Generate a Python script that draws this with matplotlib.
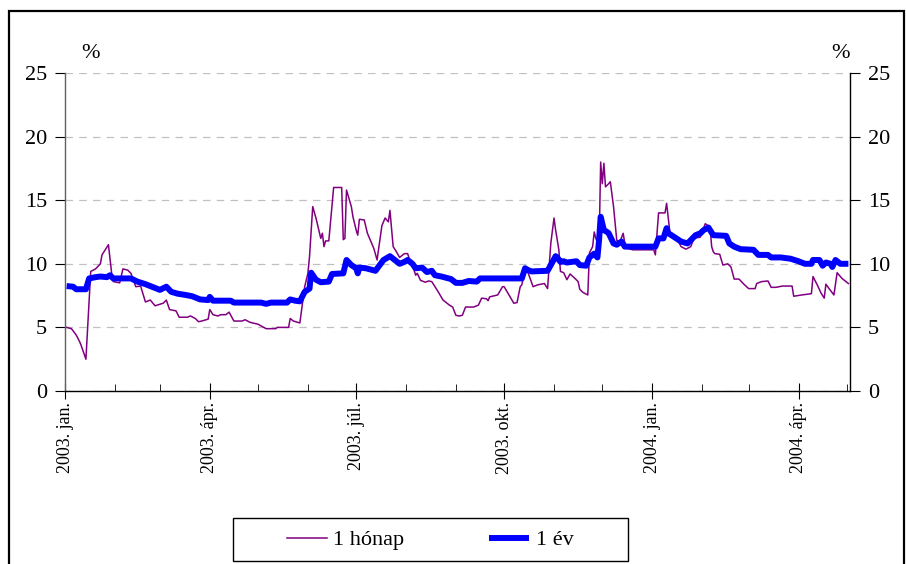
import matplotlib
matplotlib.use("Agg")
import matplotlib.pyplot as plt
import matplotlib.dates as mdates
from matplotlib.patches import Rectangle
import pandas as pd

plt.rcParams['font.family'] = ['Liberation Serif', 'DejaVu Serif']

# 1 hónap (1-month yield), %
month_dates = [
    "2003-01-02", "2003-01-05", "2003-01-08", "2003-01-10", "2003-01-11", "2003-01-14", "2003-01-17",
    "2003-01-20", "2003-01-23", "2003-01-24", "2003-01-25", "2003-01-28", "2003-01-30", "2003-01-31",
    "2003-02-04", "2003-02-06", "2003-02-09", "2003-02-11", "2003-02-14", "2003-02-17", "2003-02-20",
    "2003-02-23", "2003-02-26", "2003-03-03", "2003-03-05", "2003-03-07", "2003-03-11", "2003-03-13",
    "2003-03-18", "2003-03-20", "2003-03-23", "2003-03-25", "2003-03-27", "2003-03-31", "2003-04-01",
    "2003-04-03", "2003-04-06", "2003-04-08", "2003-04-11", "2003-04-13", "2003-04-16", "2003-04-21",
    "2003-04-23", "2003-04-26", "2003-05-01", "2003-05-06", "2003-05-12", "2003-05-13", "2003-05-20",
    "2003-05-21", "2003-05-23", "2003-05-27", "2003-05-30", "2003-06-01", "2003-06-02", "2003-06-04",
    "2003-06-06", "2003-06-09", "2003-06-10", "2003-06-11", "2003-06-12", "2003-06-14", "2003-06-17",
    "2003-06-22", "2003-06-23", "2003-06-24", "2003-06-25", "2003-06-28", "2003-06-29", "2003-07-01",
    "2003-07-02", "2003-07-03", "2003-07-06", "2003-07-08", "2003-07-12", "2003-07-14", "2003-07-17",
    "2003-07-19", "2003-07-21", "2003-07-22", "2003-07-23", "2003-07-24", "2003-07-26", "2003-07-28",
    "2003-07-31", "2003-08-02", "2003-08-04", "2003-08-06", "2003-08-07", "2003-08-08", "2003-08-10",
    "2003-08-13", "2003-08-15", "2003-08-17", "2003-08-19", "2003-08-21", "2003-08-24", "2003-08-28",
    "2003-08-30", "2003-09-01", "2003-09-03", "2003-09-05", "2003-09-07", "2003-09-12", "2003-09-15",
    "2003-09-17", "2003-09-20", "2003-09-21", "2003-09-22", "2003-09-27", "2003-09-30", "2003-10-01",
    "2003-10-04", "2003-10-07", "2003-10-09", "2003-10-11", "2003-10-12", "2003-10-14", "2003-10-16",
    "2003-10-19", "2003-10-22", "2003-10-26", "2003-10-28", "2003-10-30", "2003-11-01", "2003-11-02",
    "2003-11-04", "2003-11-05", "2003-11-07", "2003-11-09", "2003-11-11", "2003-11-14", "2003-11-16",
    "2003-11-17", "2003-11-19", "2003-11-22", "2003-11-23", "2003-11-25", "2003-11-26", "2003-11-27",
    "2003-11-29", "2003-11-30", "2003-12-01", "2003-12-02", "2003-12-03", "2003-12-05", "2003-12-06",
    "2003-12-08", "2003-12-10", "2003-12-12", "2003-12-14", "2003-12-15", "2003-12-17", "2003-12-20",
    "2004-01-02", "2004-01-03", "2004-01-05", "2004-01-09", "2004-01-10", "2004-01-12", "2004-01-13",
    "2004-01-16", "2004-01-19", "2004-01-22", "2004-01-25", "2004-01-27", "2004-01-31", "2004-02-03",
    "2004-02-06", "2004-02-07", "2004-02-08", "2004-02-09", "2004-02-12", "2004-02-14", "2004-02-17",
    "2004-02-19", "2004-02-21", "2004-02-24", "2004-02-27", "2004-03-01", "2004-03-05", "2004-03-06",
    "2004-03-09", "2004-03-13", "2004-03-15", "2004-03-18", "2004-03-22", "2004-03-28", "2004-03-29",
    "2004-04-03", "2004-04-09", "2004-04-10", "2004-04-13", "2004-04-15", "2004-04-17", "2004-04-18",
    "2004-04-20", "2004-04-23", "2004-04-25", "2004-04-28", "2004-05-02",
]
month_vals = [
    5.0, 4.9, 4.4, 3.9, 3.6, 2.5, 9.4,
    9.6, 10.0, 10.7, 10.9, 11.5, 9.25, 8.6,
    8.5, 9.6, 9.5, 9.25, 8.2, 8.25, 7.0,
    7.15, 6.7, 6.9, 7.15, 6.4, 6.3, 5.8,
    5.8, 5.9, 5.7, 5.45, 5.5, 5.65, 6.4,
    6.0, 5.9, 6.0, 6.0, 6.2, 5.5, 5.5,
    5.6, 5.4, 5.25, 4.9, 4.9, 5.0, 5.0,
    5.7, 5.5, 5.35, 8.2, 9.25, 10.55, 14.5,
    13.6, 12.0, 12.4, 11.35, 11.8, 11.8, 16.0,
    16.0, 11.9, 12.0, 15.8, 14.5, 13.7, 12.65,
    12.25, 13.5, 13.45, 12.4, 11.2, 10.3, 13.0,
    13.6, 13.3, 14.2, 12.8, 11.35, 10.95, 10.5,
    10.8, 10.8, 10.0, 9.5, 9.1, 9.25, 8.7,
    8.55, 8.65, 8.6, 8.2, 7.8, 7.15, 6.75,
    6.6, 5.95, 5.9, 5.95, 6.6, 6.6, 6.75,
    7.3, 7.25, 7.1, 7.4, 7.55, 8.2, 8.2,
    7.55, 6.9, 6.95, 8.2, 8.35, 9.6, 9.25,
    8.2, 8.35, 8.45, 8.05, 11.6, 13.6, 12.65,
    11.1, 9.4, 9.3, 8.75, 9.2, 8.85, 8.6,
    8.0, 7.75, 7.55, 10.85, 11.35, 12.5, 12.0,
    11.35, 18.0, 16.3, 17.9, 16.05, 16.3, 16.45,
    14.5, 11.85, 11.75, 12.4, 11.6, 11.2, 11.1,
    11.1, 10.7, 14.0, 14.0, 14.75, 12.5, 12.25,
    12.1, 11.35, 11.15, 11.35, 12.0, 12.1, 13.15,
    12.9, 11.35, 10.95, 10.8, 10.75, 9.9, 10.0,
    9.75, 8.8, 8.8, 8.4, 8.05, 8.05, 8.45,
    8.6, 8.65, 8.15, 8.15, 8.25, 8.25, 7.45,
    7.55, 7.65, 9.0, 8.25, 7.7, 7.3, 8.4,
    8.05, 7.55, 9.3, 8.85, 8.45,
]

# 1 év (1-year yield), %
year_dates = [
    "2003-01-02", "2003-01-06", "2003-01-08", "2003-01-14", "2003-01-16", "2003-01-20", "2003-01-23",
    "2003-01-27", "2003-01-29", "2003-01-31", "2003-02-11", "2003-02-15", "2003-02-20", "2003-02-24",
    "2003-03-01", "2003-03-05", "2003-03-08", "2003-03-12", "2003-03-17", "2003-03-21", "2003-03-26",
    "2003-03-31", "2003-04-01", "2003-04-03", "2003-04-14", "2003-04-16", "2003-05-03", "2003-05-06",
    "2003-05-09", "2003-05-19", "2003-05-21", "2003-05-24", "2003-05-27", "2003-05-30", "2003-06-02",
    "2003-06-03", "2003-06-06", "2003-06-09", "2003-06-14", "2003-06-16", "2003-06-23", "2003-06-25",
    "2003-06-28", "2003-07-01", "2003-07-02", "2003-07-03", "2003-07-07", "2003-07-13", "2003-07-18",
    "2003-07-22", "2003-07-26", "2003-07-28", "2003-07-31", "2003-08-02", "2003-08-05", "2003-08-07",
    "2003-08-11", "2003-08-14", "2003-08-17", "2003-08-19", "2003-08-23", "2003-08-29", "2003-09-01",
    "2003-09-05", "2003-09-09", "2003-09-14", "2003-09-16", "2003-10-12", "2003-10-14", "2003-10-16",
    "2003-10-18", "2003-10-28", "2003-10-30", "2003-11-02", "2003-11-03", "2003-11-05", "2003-11-07",
    "2003-11-09", "2003-11-15", "2003-11-17", "2003-11-21", "2003-11-23", "2003-11-26", "2003-11-28",
    "2003-11-29", "2003-11-30", "2003-12-02", "2003-12-04", "2003-12-05", "2003-12-08", "2003-12-10",
    "2003-12-13", "2003-12-15", "2004-01-03", "2004-01-05", "2004-01-08", "2004-01-10", "2004-01-11",
    "2004-01-13", "2004-01-16", "2004-01-19", "2004-01-23", "2004-01-28", "2004-01-31", "2004-02-02",
    "2004-02-05", "2004-02-08", "2004-02-16", "2004-02-18", "2004-02-21", "2004-02-25", "2004-03-04",
    "2004-03-07", "2004-03-13", "2004-03-15", "2004-03-21", "2004-03-27", "2004-04-01", "2004-04-05",
    "2004-04-09", "2004-04-10", "2004-04-14", "2004-04-16", "2004-04-18", "2004-04-21", "2004-04-22",
    "2004-04-24", "2004-04-27", "2004-05-02",
]
year_vals = [
    8.25, 8.2, 8.0, 8.0, 8.85, 8.95, 9.0,
    8.95, 9.1, 8.85, 8.85, 8.6, 8.4, 8.2,
    7.95, 8.2, 7.8, 7.65, 7.55, 7.45, 7.2,
    7.15, 7.4, 7.1, 7.1, 6.95, 6.95, 6.85,
    6.95, 6.95, 7.2, 7.1, 7.05, 7.8, 8.05,
    9.3, 8.75, 8.55, 8.6, 9.2, 9.25, 10.3,
    9.9, 9.65, 9.25, 9.7, 9.65, 9.45, 10.3,
    10.6, 10.2, 10.0, 10.15, 10.3, 10.0, 9.65,
    9.7, 9.35, 9.45, 9.1, 9.0, 8.8, 8.5,
    8.5, 8.65, 8.6, 8.85, 8.85, 9.65, 9.5,
    9.4, 9.45, 9.9, 10.6, 10.5, 10.15, 10.2,
    10.1, 10.2, 9.9, 9.85, 10.5, 10.8, 10.5,
    11.85, 13.7, 12.65, 12.5, 12.4, 11.6, 11.5,
    11.75, 11.35, 11.35, 12.0, 12.0, 12.8, 12.4,
    12.25, 12.0, 11.75, 11.6, 12.25, 12.4, 12.65,
    12.85, 12.25, 12.2, 11.6, 11.35, 11.15, 11.1,
    10.7, 10.7, 10.5, 10.5, 10.4, 10.2, 10.0,
    10.0, 10.3, 10.3, 9.85, 10.1, 10.0, 9.75,
    10.3, 10.0, 10.0,
]

tick_dates = ["2003-01-01", "2003-04-01", "2003-07-01", "2003-10-01", "2004-01-01", "2004-04-01"]
tick_labels = ["2003. jan.", "2003. ápr.", "2003. júl.", "2003. okt.", "2004. jan.", "2004. ápr."]

W, H = 906, 564
fig = plt.figure(figsize=(W / 100, H / 100), dpi=100)
ax = fig.add_axes([65 / W, 173 / H, 785 / W, 318 / H])

ax.plot(pd.to_datetime(month_dates), month_vals, color='#800080', lw=1.1, label='1 hónap')
ax.plot(pd.to_datetime(year_dates), year_vals, color='#0000ff', lw=4.3, label='1 év',
        solid_joinstyle='round', solid_capstyle='butt')

# y axis, labelled on both sides
ax.set_ylim(0, 25)
ax.set_yticks(range(0, 26, 5))
ax.grid(axis='y', color='#c0c0c0', ls=(0, (6, 5)), lw=0.9)
ax.set_axisbelow(True)
ax.tick_params(axis='y', which='both', left=True, right=True, labelleft=True, labelright=True,
               direction='out', length=7, labelsize=16, pad=6)

# x axis: monthly ticks, labels every quarter
ax.set_xlim(pd.Timestamp("2003-01-01"), pd.Timestamp("2004-05-03"))
ax.set_xticks(pd.to_datetime(tick_dates))
ax.set_xticklabels(tick_labels, rotation=90, va='top', ha='center')
ax.xaxis.set_minor_locator(mdates.MonthLocator())
ax.tick_params(axis='x', which='major', direction='inout', length=12, labelsize=13, pad=2)
ax.tick_params(axis='x', which='minor', direction='in', length=5)

ax.spines['top'].set_visible(False)
ax.spines['left'].set_color('#606060')
for side in ['left', 'right', 'bottom']:
    ax.spines[side].set_linewidth(1.0)
ax.spines['right'].set_color('black')
ax.spines['bottom'].set_color('black')

fig.text(91 / W, 1 - 53 / H, '%', ha='center', va='center', fontsize=16)
fig.text(840 / W, 1 - 53 / H, '%', ha='center', va='center', fontsize=16)

fig.legend(loc='center', bbox_to_anchor=(430 / W, 1 - 540 / H), ncol=2, frameon=False,
           fontsize=16, handlelength=1.8, handletextpad=0.3, columnspacing=3.8)
fig.patches.append(Rectangle((233 / W, 1 - 561 / H), 395 / W, 43 / H, transform=fig.transFigure,
                             fill=False, ec='black', lw=1.0))

# outer frame
fig.patches.append(Rectangle((9 / W, -0.02), 895 / W, 1 - 11 / H + 0.02, transform=fig.transFigure,
                             fill=False, ec='black', lw=1.6))

fig.savefig('out.png', dpi=100)
